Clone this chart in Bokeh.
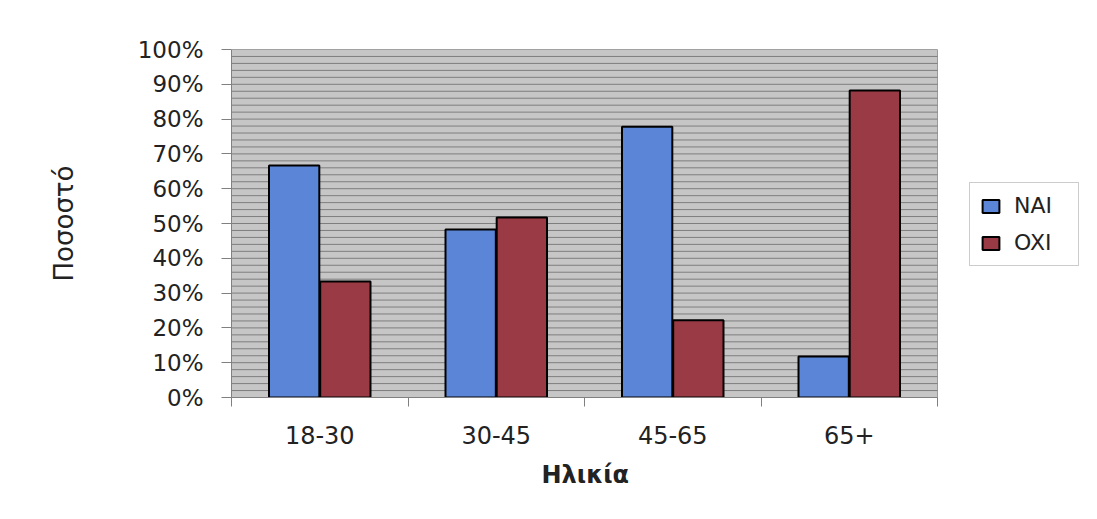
from bokeh.plotting import figure
from bokeh.models import ColumnDataSource, FixedTicker, Range1d, Legend, LegendItem, Title
from bokeh.embed import file_html
from bokeh.resources import INLINE
import numpy as np

categories = ["18-30", "30-45", "45-65", "65+"]
nai = [66.7, 48.3, 77.8, 11.8]
oxi = [33.3, 51.7, 22.2, 88.2]
y_ticks = list(range(0, 101, 10))
series_names = ["NAI", "OXI"]
colors = ["#5b86d8", "#9a3a44"]
x_title = "Ηλικία"
y_title = "Ποσοστό"

n = len(categories)
centers = np.arange(n) + 0.5
off = 0.145
bw = 0.285

FONT = "DejaVu Sans"

PLOT_W = 706      # width of the category area in px
FRAME_W = 850     # frame includes room for the legend on the right
x_end = n * FRAME_W / PLOT_W

p = figure(output_backend="svg", toolbar_location=None,
           frame_width=FRAME_W, frame_height=348,
           min_border_left=231, min_border_top=49, min_border_right=0, min_border_bottom=20,
           x_range=Range1d(0, x_end), y_range=Range1d(0, 100))
p.background_fill_color = "white"
p.border_fill_color = "white"
p.outline_line_color = None

# plot-area background and border
p.quad(left=[0], right=[n], bottom=[0], top=[100], fill_color="#c6c6c6",
       line_color="#9a9a9a", line_width=1, level="underlay")
# horizontal grid lines every 2%
grid_y = list(np.arange(0, 101, 2))
p.segment(x0=[0] * len(grid_y), x1=[n] * len(grid_y), y0=grid_y, y1=grid_y,
          line_color="#7e7e7e", line_width=1, level="underlay")

src = ColumnDataSource(dict(x_nai=centers - off, x_oxi=centers + off, nai=nai, oxi=oxi))
r1 = p.vbar(x="x_nai", top="nai", width=bw, source=src, fill_color=colors[0], line_color="black", line_width=2)
r2 = p.vbar(x="x_oxi", top="oxi", width=bw, source=src, fill_color=colors[1], line_color="black", line_width=2)

p.grid.visible = False

# y axis
p.yaxis.ticker = FixedTicker(ticks=y_ticks)
p.yaxis.major_label_overrides = {t: f"{t}%" for t in y_ticks}
p.yaxis.major_tick_out = 10
p.yaxis.major_tick_in = 0
p.yaxis.minor_tick_out = 0
p.yaxis.minor_tick_in = 0
p.yaxis.axis_line_color = "#808080"
p.yaxis.major_tick_line_color = "#808080"
p.yaxis.major_label_text_font = FONT
p.yaxis.major_label_text_font_size = "23px"
p.yaxis.major_label_text_color = "#222222"
p.yaxis.major_label_standoff = 18
p.yaxis.axis_label = y_title
p.yaxis.axis_label_text_font = FONT
p.yaxis.axis_label_text_font_size = "26px"
p.yaxis.axis_label_text_font_style = "normal"
p.yaxis.axis_label_text_color = "#222222"
p.yaxis.axis_label_standoff = 56

# x axis
p.xaxis.bounds = (0, n)
p.xaxis.ticker = FixedTicker(ticks=list(centers), minor_ticks=list(np.arange(0, n + 1)))
p.xaxis.major_label_overrides = {float(c): cat for c, cat in zip(centers, categories)}
p.xaxis.major_tick_line_color = None
p.xaxis.minor_tick_out = 9
p.xaxis.minor_tick_in = 0
p.xaxis.minor_tick_line_color = "#808080"
p.xaxis.axis_line_color = "#808080"
p.xaxis.major_label_text_font = FONT
p.xaxis.major_label_text_font_size = "24px"
p.xaxis.major_label_text_color = "#222222"
p.xaxis.major_label_standoff = 19

# x axis title, centred under the category area (not the whole frame)
xt = Title(text=x_title, align="left", offset=310, standoff=24,
           text_font=FONT, text_font_size="24px", text_font_style="bold",
           text_color="#222222")
p.add_layout(xt, "below")

legend = Legend(items=[LegendItem(label=series_names[0], renderers=[r1]),
                       LegendItem(label=series_names[1], renderers=[r2])],
                location=(738, 131), orientation="vertical")
legend.label_text_font = FONT
legend.label_text_font_size = "22px"
legend.label_text_color = "#222222"
legend.border_line_color = "#999999"
legend.border_line_width = 1
legend.background_fill_color = "white"
legend.glyph_width = 21
legend.glyph_height = 16
legend.label_width = 54
legend.spacing = 12
legend.padding = 10
legend.margin = 0
legend.label_standoff = 13
p.add_layout(legend, "center")

open("out.html", "w").write(file_html(p, INLINE))
